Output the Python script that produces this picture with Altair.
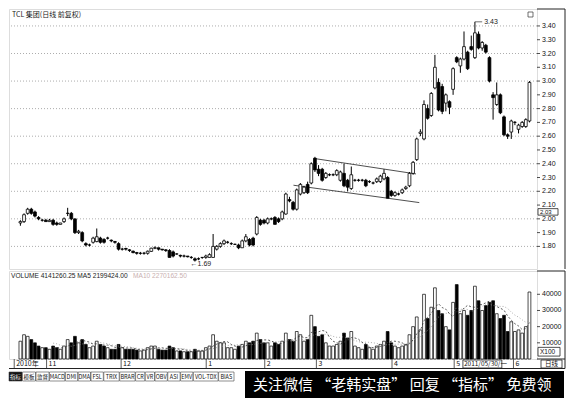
import altair as alt
import pandas as pd

# ---------------- data ----------------
opens = [1.97,1.98,2.04,2.07,2.05,2.01,1.99,1.99,1.98,1.99,1.97,1.96,1.98,2.04,2.04,2.00,1.90,1.90,1.82,1.81,
         1.83,1.835,1.86,1.85,1.86,1.845,1.835,1.82,1.78,1.785,1.775,1.765,1.755,1.75,1.75,1.75,1.764,1.787,1.79,1.78,
         1.775,1.77,1.76,1.745,1.735,1.73,1.73,1.72,1.71,1.71,1.72,1.72,1.72,1.72,1.78,1.80,1.82,1.83,1.82,1.815,
         1.81,1.79,1.84,1.85,1.86,1.89,1.99,1.99,1.97,2.00,2.01,2.00,2.00,2.035,2.14,2.12,2.07,2.18,2.19,2.25,
         2.26,2.44,2.36,2.36,2.30,2.32,2.32,2.32,2.28,2.33,2.28,2.22,2.28,2.28,2.28,2.28,2.27,2.26,2.27,2.27,
         2.29,2.30,2.20,2.17,2.18,2.19,2.22,2.24,2.33,2.43,2.62,2.58,2.80,2.75,2.95,2.99,2.96,2.84,2.85,2.94,
         3.17,3.11,3.16,3.21,3.25,3.17,3.34,3.24,3.26,3.17,2.90,2.83,2.90,2.74,2.61,2.63,2.70,2.65,2.67,2.67,2.71]
highs = [1.99,2.04,2.08,2.08,2.06,2.02,2.00,2.00,2.00,2.00,1.98,1.97,2.01,2.08,2.05,2.00,1.92,1.91,1.83,1.82,
         1.87,1.93,1.87,1.86,1.87,1.85,1.84,1.83,1.79,1.79,1.78,1.77,1.76,1.76,1.76,1.77,1.79,1.80,1.79,1.78,
         1.78,1.78,1.77,1.75,1.74,1.74,1.73,1.73,1.72,1.72,1.72,1.74,1.75,1.89,1.81,1.83,1.85,1.84,1.83,1.82,
         1.82,1.85,1.89,1.86,1.87,2.02,2.00,2.00,2.01,2.01,2.02,2.01,2.06,2.19,2.16,2.13,2.22,2.26,2.24,2.27,
         2.41,2.45,2.39,2.37,2.34,2.33,2.33,2.36,2.35,2.40,2.29,2.38,2.29,2.29,2.29,2.29,2.28,2.27,2.30,2.32,
         2.36,2.31,2.21,2.20,2.19,2.22,2.24,2.34,2.42,2.59,2.65,2.86,2.83,2.92,3.19,3.02,2.98,2.91,2.86,3.10,
         3.18,3.17,3.36,3.22,3.33,3.43,3.36,3.29,3.27,3.18,2.92,2.99,2.91,2.75,2.62,2.72,2.71,2.69,2.71,2.73,3.00]
lows = [1.95,1.97,2.03,2.03,2.01,1.99,1.98,1.98,1.98,1.95,1.95,1.96,1.97,2.02,1.99,1.89,1.89,1.83,1.80,1.80,
        1.82,1.83,1.82,1.82,1.85,1.83,1.82,1.77,1.77,1.77,1.76,1.75,1.74,1.74,1.74,1.74,1.76,1.78,1.77,1.77,
        1.76,1.72,1.72,1.74,1.72,1.72,1.72,1.71,1.69,1.70,1.71,1.71,1.72,1.72,1.77,1.79,1.81,1.82,1.81,1.81,
        1.78,1.79,1.83,1.80,1.80,1.88,1.95,1.96,1.96,1.99,1.96,1.97,1.99,2.03,2.12,2.06,2.06,2.17,2.18,2.18,
        2.25,2.34,2.31,2.27,2.29,2.31,2.31,2.31,2.27,2.23,2.20,2.21,2.27,2.27,2.27,2.23,2.26,2.25,2.26,2.26,
        2.28,2.15,2.16,2.16,2.17,2.18,2.21,2.23,2.32,2.42,2.60,2.57,2.72,2.74,2.94,2.78,2.76,2.78,2.76,2.90,
        3.13,3.06,3.15,3.08,3.22,3.16,3.23,3.22,3.20,2.99,2.72,2.82,2.76,2.60,2.58,2.58,2.68,2.62,2.66,2.66,2.70]
closes = [1.98,2.03,2.07,2.04,2.02,2.00,1.99,1.98,1.99,1.96,1.96,1.97,2.00,2.04,2.00,1.90,1.91,1.84,1.81,1.81,
          1.86,1.87,1.83,1.83,1.86,1.84,1.83,1.78,1.78,1.78,1.77,1.755,1.75,1.75,1.75,1.765,1.787,1.79,1.78,1.775,
          1.77,1.72,1.73,1.745,1.73,1.73,1.725,1.72,1.70,1.71,1.72,1.73,1.74,1.80,1.80,1.82,1.84,1.83,1.82,1.815,
          1.79,1.84,1.87,1.81,1.81,2.01,1.96,1.97,2.00,2.00,1.96,1.98,2.05,2.18,2.13,2.07,2.21,2.25,2.23,2.19,
          2.40,2.355,2.33,2.28,2.33,2.32,2.32,2.35,2.34,2.24,2.23,2.32,2.28,2.28,2.28,2.24,2.27,2.26,2.29,2.31,
          2.33,2.15,2.17,2.19,2.18,2.21,2.23,2.33,2.41,2.58,2.63,2.83,2.73,2.91,3.10,2.79,2.78,2.90,2.81,3.09,
          3.14,3.16,3.25,3.09,3.23,3.35,3.24,3.28,3.21,3.00,2.88,2.90,2.77,2.61,2.60,2.71,2.70,2.68,2.70,2.72,2.99]
volumes = [11000,15000,14000,12000,10000,8000,7000,7000,6000,8000,7000,6000,8000,12000,10000,14000,10000,12000,9000,7000,
           8000,11000,9000,8000,7000,6000,6000,9000,7000,6000,6000,6000,5500,5000,5500,7000,8000,8000,6000,5500,
           5500,8000,7000,5000,5000,4500,4500,4500,6000,5000,5000,7000,8000,15000,11000,10000,10000,7000,7000,6000,
           8000,9000,11000,10000,11000,16000,12000,10000,10000,8000,10000,9000,11000,16000,12000,11000,17000,15000,11000,12000,
           27000,20000,14000,15000,10000,8000,8000,9000,11000,16000,13000,17000,8000,7000,6000,9000,7000,6000,8000,9000,
           11000,17000,10000,8000,7000,8000,9000,15000,20000,26000,18000,40000,25000,32000,44000,30000,28000,20000,18000,35000,
           46000,28000,30000,27000,30000,45000,36000,30000,33000,35000,36000,28000,25000,27000,17000,23000,17000,18000,16000,20000,41412]

price_ticks = [1.80,1.90,2.00,2.10,2.20,2.30,2.40,2.50,2.60,2.70,2.80,2.90,3.00,3.10,3.20,3.30,3.40]
grid_levels = [1.80,2.00,2.20,2.40,2.60,2.80,3.00,3.20,3.40]
vol_ticks = [10000,20000,30000,40000]
month_labels = ["2010年","11","12","1","2","3","4","5","6"]
month_pos = [-1.7,7.2,27.7,51.1,67.2,81.4,102.2,119.3,135.6]
chan_line = ["upper","upper","lower","lower"]
chan_idx = [80.8,108.8,75.1,109.7]
chan_price = [2.438,2.326,2.244,2.118]
tool_labels = ["指标","模板","监督","MACD","DMI","DMA","FSL","TRIX","BRAR","CR","VR","OBV","ASI","EMV","VOL-TDX","BIAS"]

# ---------------- layout ----------------
W, H1, H2 = 528, 260, 88
XDOM = [-1.76, 140.7]
FONT = "Liberation Sans"
CJK = "Noto Sans CJK SC"
xs = alt.Scale(domain=XDOM, nice=False, zero=False)
ps = alt.Scale(domain=[1.636, 3.523], nice=False, zero=False)
vs = alt.Scale(domain=[0, 54400], nice=False)

df = pd.DataFrame({"i": list(range(len(opens))), "open": opens, "high": highs,
                   "low": lows, "close": closes, "vol": volumes})
one = pd.DataFrame({"k": [0]})
up = "datum.close >= datum.open"
X = alt.X("i:Q", scale=xs, axis=None)
base = alt.Chart(df)

# ---------------- price panel ----------------
grid = alt.Chart(pd.DataFrame({"g": grid_levels})).mark_rule(
    color="#8a8a8a", strokeDash=[1, 2], strokeWidth=0.7).encode(
    y=alt.Y("g:Q", scale=ps, axis=None))
ptick_df = pd.DataFrame({"v": price_ticks})
p_ticks = alt.Chart(ptick_df).mark_rule(color="#222", strokeWidth=0.8).encode(
    x=alt.value(W), x2=alt.value(W + 3), y=alt.Y("v:Q", scale=ps, axis=None))
p_labels = alt.Chart(ptick_df).mark_text(align="left", baseline="middle", fontSize=7, font=FONT,
                                         color="#111").encode(
    x=alt.value(W + 5), y=alt.Y("v:Q", scale=ps, axis=None), text=alt.Text("v:Q", format=".2f"))
wicks = base.mark_rule(color="black", strokeWidth=1).encode(
    x=X, y=alt.Y("low:Q", scale=ps, axis=None), y2="high:Q")
bodies = base.mark_bar(size=2.8, stroke="black", strokeWidth=0.8).encode(
    x=X, y=alt.Y("open:Q", scale=ps, axis=None), y2="close:Q",
    fill=alt.condition(up, alt.value("white"), alt.value("black")))
chan = alt.Chart(pd.DataFrame({"line": chan_line, "i": chan_idx, "p": chan_price})).mark_line(
    color="#222", strokeWidth=0.8).encode(
    x=alt.X("i:Q", scale=xs, axis=None), y=alt.Y("p:Q", scale=ps, axis=None), detail="line:N")

hi_i = highs.index(max(highs))
lo_i = lows.index(min(lows))
hi_df = pd.DataFrame({"i": [hi_i], "i2": [hi_i + 2.0], "p": [max(highs)], "t": ["%.2f" % max(highs)]})
lo_df = pd.DataFrame({"i": [lo_i - 1.2], "p": [min(lows) - 0.015], "t": ["←%.2f" % min(lows)]})
hi_rule = alt.Chart(hi_df).mark_rule(color="#333", strokeWidth=0.7).encode(
    x=alt.X("i:Q", scale=xs, axis=None), x2="i2:Q", y=alt.Y("p:Q", scale=ps, axis=None))
hi_text = alt.Chart(hi_df).mark_text(align="left", baseline="middle", fontSize=7, font=FONT, dx=2,
                                     color="#222").encode(
    x=alt.X("i2:Q", scale=xs, axis=None), y=alt.Y("p:Q", scale=ps, axis=None), text="t:N")
lo_text = alt.Chart(lo_df).mark_text(align="left", baseline="middle", fontSize=7, font=FONT,
                                     color="#222").encode(
    x=alt.X("i:Q", scale=xs, axis=None), y=alt.Y("p:Q", scale=ps, axis=None), text="t:N")

title_txt = alt.Chart(one).mark_text(text="TCL 集团(日线 前复权)", align="left", baseline="middle",
                                     fontSize=7, font=CJK, color="#222").encode(
    x=alt.value(3), y=alt.value(6))
icon = alt.Chart(one).mark_rect(fill="white", stroke="#333", strokeWidth=0.7).encode(
    x=alt.value(W - 9), x2=alt.value(W - 4), y=alt.value(3), y2=alt.value(8))
cur_df = pd.DataFrame({"p0": [2.027], "p1": [2.074], "pm": [2.0505], "t": ["2.03"]})
cur_box = alt.Chart(cur_df).mark_rect(fill="white", stroke="#222", strokeWidth=0.8).encode(
    x=alt.value(W + 1), x2=alt.value(W + 21), y=alt.Y("p0:Q", scale=ps, axis=None), y2="p1:Q")
cur_txt = alt.Chart(cur_df).mark_text(align="left", baseline="middle", fontSize=6, font=FONT,
                                      color="#111").encode(
    x=alt.value(W + 3), y=alt.Y("pm:Q", scale=ps, axis=None), text="t:N")
right_border_p = alt.Chart(one).mark_rule(color="#222", strokeWidth=1).encode(
    x=alt.value(W + 28), y=alt.value(0), y2=alt.value(H1))
top_border_p = alt.Chart(one).mark_rule(color="#222", strokeWidth=1).encode(
    x=alt.value(W), x2=alt.value(W + 28), y=alt.value(0))

price = alt.layer(grid, chan, wicks, bodies, hi_rule, hi_text, lo_text, title_txt, icon,
                  p_ticks, p_labels, cur_box, cur_txt, right_border_p, top_border_p
                  ).properties(width=W, height=H1)

# ---------------- volume panel ----------------
vbars = base.mark_bar(size=2.8, stroke="black", strokeWidth=0.7).encode(
    x=X, y=alt.Y("vol:Q", scale=vs, axis=None),
    fill=alt.condition(up, alt.value("white"), alt.value("black")))
ma = base.transform_window(ma5="mean(vol)", frame=[-4, 0], sort=[alt.SortField("i")]).transform_window(
    ma10="mean(vol)", frame=[-9, 0], sort=[alt.SortField("i")]).transform_filter("datum.i >= 9")
ma5 = ma.mark_line(color="#333", strokeWidth=0.8, strokeDash=[2, 2]).encode(
    x=X, y=alt.Y("ma5:Q", scale=vs, axis=None))
ma10 = ma.mark_line(color="#999", strokeWidth=0.8, strokeDash=[1, 2]).encode(
    x=X, y=alt.Y("ma10:Q", scale=vs, axis=None))
vtick_df = pd.DataFrame({"v": vol_ticks})
v_ticks = alt.Chart(vtick_df).mark_rule(color="#222", strokeWidth=0.8).encode(
    x=alt.value(W), x2=alt.value(W + 3), y=alt.Y("v:Q", scale=vs, axis=None))
v_labels = alt.Chart(vtick_df).mark_text(align="left", baseline="middle", fontSize=7, font=FONT,
                                         color="#111").encode(
    x=alt.value(W + 5), y=alt.Y("v:Q", scale=vs, axis=None), text=alt.Text("v:Q", format="d"))
vhead1 = alt.Chart(one).mark_text(text="VOLUME 4141260.25  MA5 2199424.00", align="left",
                                  baseline="middle", fontSize=6.6, font=FONT, color="#222").encode(
    x=alt.value(2), y=alt.value(5))
vhead2 = alt.Chart(one).mark_text(text="MA10 2270162.50", align="left", baseline="middle",
                                  fontSize=6.6, font=FONT, color="#c9b0b0").encode(
    x=alt.value(124), y=alt.value(5))

mdf = pd.DataFrame({"pos": month_pos, "lab": month_labels})
mticks = alt.Chart(mdf).mark_rule(color="#333", strokeWidth=0.8).encode(
    x=alt.X("pos:Q", scale=xs, axis=None), y=alt.value(H2), y2=alt.value(H2 + 9))
mtext = alt.Chart(mdf).mark_text(align="left", baseline="middle", fontSize=7, font=CJK, dx=2,
                                 color="#111").encode(
    x=alt.X("pos:Q", scale=xs, axis=None), y=alt.value(H2 + 5), text="lab:N")
date_df = pd.DataFrame({"a": [121.7], "b": [132.4], "t": ["2011/05/30/一"]})
date_box = alt.Chart(date_df).mark_rect(fill="white", stroke="#222", strokeWidth=0.8).encode(
    x=alt.X("a:Q", scale=xs, axis=None), x2="b:Q", y=alt.value(H2 + 1), y2=alt.value(H2 + 9))
date_txt = alt.Chart(date_df).mark_text(align="left", baseline="middle", fontSize=6.5, font=CJK, dx=1,
                                        color="#111").encode(
    x=alt.X("a:Q", scale=xs, axis=None), y=alt.value(H2 + 5), text="t:N")
x100_df = pd.DataFrame({"v0": [1800], "v1": [7200], "vm": [4500], "t": ["X100"]})
x100_box = alt.Chart(x100_df).mark_rect(fill="white", stroke="#222", strokeWidth=0.8).encode(
    x=alt.value(W + 1), x2=alt.value(W + 23), y=alt.Y("v0:Q", scale=vs, axis=None), y2="v1:Q")
x100_txt = alt.Chart(x100_df).mark_text(align="left", baseline="middle", fontSize=6.5, font=FONT,
                                        color="#111").encode(
    x=alt.value(W + 3), y=alt.Y("vm:Q", scale=vs, axis=None), text="t:N")
rixian_box = alt.Chart(one).mark_rect(fill="white", stroke="#222", strokeWidth=0.8).encode(
    x=alt.value(W + 4), x2=alt.value(W + 25), y=alt.value(H2 + 1), y2=alt.value(H2 + 9))
rixian_txt = alt.Chart(one).mark_text(text="日线", align="center", baseline="middle", fontSize=6.5,
                                      font=CJK, color="#111").encode(
    x=alt.value(W + 14.5), y=alt.value(H2 + 5))
right_border_v = alt.Chart(one).mark_rule(color="#222", strokeWidth=1).encode(
    x=alt.value(W + 28), y=alt.value(0), y2=alt.value(H2 + 9.5))
top_border_v = alt.Chart(one).mark_rule(color="#222", strokeWidth=1).encode(
    x=alt.value(W), x2=alt.value(W + 28), y=alt.value(0))
mid_border_v = alt.Chart(one).mark_rule(color="#222", strokeWidth=1).encode(
    x=alt.value(W), x2=alt.value(W + 28), y=alt.value(H2))
bot_border_v = alt.Chart(one).mark_rule(color="#222", strokeWidth=1).encode(
    x=alt.value(0), x2=alt.value(W + 28), y=alt.value(H2 + 9.5))

vol = alt.layer(vbars, ma10, ma5, v_ticks, v_labels, vhead1, vhead2, mticks, mtext, date_box, date_txt,
                x100_box, x100_txt, rixian_box, rixian_txt, right_border_v, top_border_v,
                mid_border_v, bot_border_v).properties(width=W, height=H2)

# ---------------- toolbar + banner ----------------
rows = []
cx = 0.0
for t in tool_labels:
    w = sum(5.0 if ord(ch) > 255 else 3.1 for ch in t) + 3
    rows.append({"t": t, "x0": cx, "x1": cx + w, "xm": cx + w / 2, "dark": t == tool_labels[0]})
    cx += w + 0.5
tdf = pd.DataFrame(rows)
tb_rect = alt.Chart(tdf).mark_rect(stroke="#444", strokeWidth=0.6).encode(
    x=alt.X("x0:Q", scale=None, axis=None), x2="x1:Q", y=alt.value(1), y2=alt.value(10),
    fill=alt.condition("datum.dark", alt.value("#111"), alt.value("white")))
tb_text = alt.Chart(tdf).mark_text(fontSize=5.5, font=CJK, baseline="middle").encode(
    x=alt.X("xm:Q", scale=None, axis=None), y=alt.value(5.5), text="t:N",
    color=alt.condition("datum.dark", alt.value("white"), alt.value("#111")))
banner = alt.Chart(one).mark_rect(color="black").encode(
    x=alt.value(236), x2=alt.value(555), y=alt.value(0), y2=alt.value(27))
banner_text = alt.Chart(one).mark_text(text="关注微信  “老韩实盘”  回复  “指标”  免费领", align="left",
                                       baseline="middle", fontSize=15, font=CJK, color="white").encode(
    x=alt.value(244), y=alt.value(14))
toolbar = alt.layer(tb_rect, tb_text, banner, banner_text).properties(
    width=555, height=27, view=alt.ViewBackground(stroke="transparent"))

chart = alt.vconcat(price, vol, toolbar, spacing=0).properties(
    padding={"left": 0, "right": 0, "top": 0, "bottom": 0}
).configure_view(stroke="#222", strokeWidth=1).configure(background="white")

chart.save("out.html", embed_options={"renderer": "svg", "actions": False})
